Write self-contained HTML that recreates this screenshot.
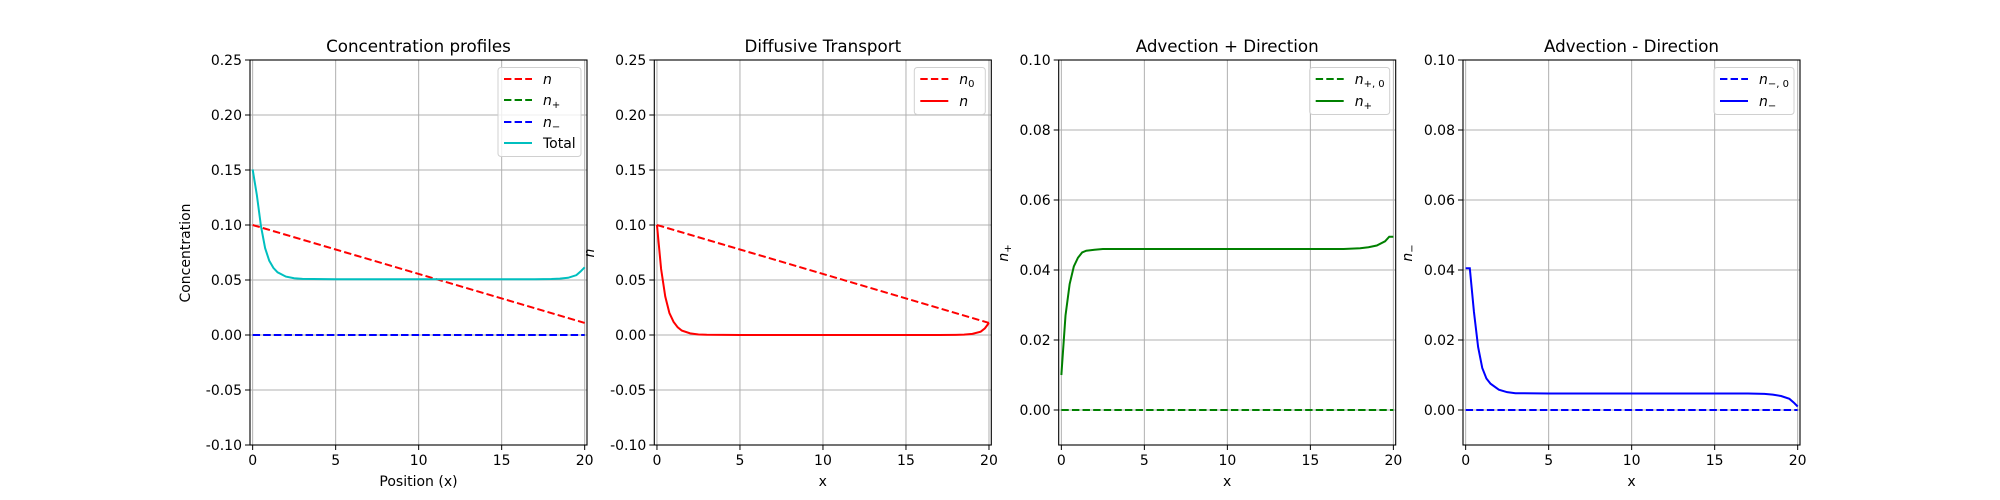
<!DOCTYPE html>
<html><head><meta charset="utf-8"><style>
body{margin:0;background:#fff}
svg{display:block;font-family:"DejaVu Sans","Liberation Sans",sans-serif}
</style></head><body>
<svg id="fig" width="2000" height="500" viewBox="0 0 2000 500" xmlns="http://www.w3.org/2000/svg"></svg>
<script>
const xs = [0,0.25,0.5,0.75,1,1.25,1.5,2,2.5,3,5,10,15,17,18,18.5,19,19.5,19.75,20];
const nVals = [0.1,0.06,0.035,0.02,0.012,0.007,0.004,0.0015,0.0005,0.0002,0,0,0,0,0.0001,0.0003,0.001,0.003,0.006,0.011];
const nPlusVals = [0.01,0.027,0.036,0.041,0.0435,0.045,0.0455,0.0458,0.046,0.046,0.046,0.046,0.046,0.046,0.0462,0.0465,0.047,0.0482,0.0495,0.0495];
const nMinusVals = [0.0405,0.0405,0.028,0.018,0.012,0.009,0.0075,0.0058,0.0051,0.0048,0.0047,0.0047,0.0047,0.0047,0.0046,0.0044,0.004,0.0032,0.0022,0.001];
const n0X = [0,20];
const n0Vals = [0.1,0.011];
const zeroVals = [0,0];
const xTicks = [0,5,10,15,20];
const yTicksA = [-0.10,-0.05,0.00,0.05,0.10,0.15,0.20,0.25];
const yTicksB = [0.00,0.02,0.04,0.06,0.08,0.10];
const totalVals = xs.map((_,i)=>nVals[i]+nPlusVals[i]+nMinusVals[i]);

const NS="http://www.w3.org/2000/svg";
const svg=document.getElementById('fig');
function el(tag,attrs,parent){const e=document.createElementNS(NS,tag);for(const k in attrs)e.setAttribute(k,attrs[k]);(parent||svg).appendChild(e);return e;}

const W=337,T=60,B=445,XMIN=-0.16,XMAX=20.14;
const lefts=[250,654.3,1058.7,1463];

function panel(i,o){
  const L=lefts[i],R=L+W;
  const sx=v=>L+(v-XMIN)/(XMAX-XMIN)*W;
  const sy=v=>B-(v-o.ymin)/(o.ymax-o.ymin)*(B-T);
  const g=el('g',{});
  
  
  // grid
  xTicks.forEach(t=>{const l=el('line',{x1:sx(t),x2:sx(t),y1:T,y2:B,stroke:'#b0b0b0','stroke-width':1},g);
    });
  o.yt.forEach(t=>{const l=el('line',{x1:L,x2:R,y1:sy(t),y2:sy(t),stroke:'#b0b0b0','stroke-width':1},g);
    });
  // series
  o.series.forEach(s=>{
    const p=el('polyline',{points:s.x.map((x,k)=>sx(x)+','+sy(s.y[k])).join(' '),fill:'none',stroke:s.c,'stroke-width':2,'stroke-dasharray':s.d?'7.4,3.2':'none'},g);
    
    
  });
  // frame
  const f=el('rect',{x:L,y:T,width:W,height:B-T,fill:'none',stroke:'#000','stroke-width':1.1},g);
  
  // ticks
  xTicks.forEach(t=>{el('line',{x1:sx(t),x2:sx(t),y1:B,y2:B+5,stroke:'#000'},g);
    const tx=el('text',{x:sx(t),y:B+20,'font-size':14,'text-anchor':'middle'},g);tx.textContent=t;
    });
  o.yt.forEach(t=>{el('line',{x1:L-5,x2:L,y1:sy(t),y2:sy(t),stroke:'#000'},g);
    const tx=el('text',{x:L-8,y:sy(t)+5,'font-size':14,'text-anchor':'end'},g);tx.textContent=t.toFixed(2);
    });
  // title
  const ti=el('text',{x:L+W/2,y:52,'font-size':16.7,'text-anchor':'middle'},g);ti.textContent=o.title;
  
  const xl=el('text',{x:L+W/2,y:486,'font-size':14,'text-anchor':'middle'},g);xl.textContent=o.xlabel;
  
  const yl=el('text',{x:o.ylx,y:253,'font-size':14,'text-anchor':'middle',transform:`rotate(-90 ${o.ylx} 253)`},g);
  yl.innerHTML=o.ylabel;
  
  // legend
  const lw=o.legW, lh=o.leg.length===4?89:47;
  const lx=R-6-lw, ly=67.5;
  const lg=el('g',{},g);
  
  el('rect',{x:lx,y:ly,width:lw,height:lh,rx:3,fill:'#fff','fill-opacity':0.8,stroke:'#d0d0d0'},lg);
  const ys=o.leg.length===4?[79,100,122,143]:[79,101];
  o.leg.forEach((e,k)=>{
    const ent=el('g',{},lg);
    
    el('line',{x1:lx+6,x2:lx+34,y1:ys[k],y2:ys[k],stroke:e.c,'stroke-width':2,'stroke-dasharray':e.d?'7.4,3.2':'none'},ent);
    const t=el('text',{x:lx+45,y:ys[k]+5,'font-size':14},ent);t.innerHTML=e.t;
  });
}
const it=(b,s)=>`<tspan font-style="italic">${b}</tspan>`+(s?`<tspan font-size="10" dy="3">${s}</tspan>`:'');

panel(0,{name:'concentration-profiles-panel',title:'Concentration profiles',xlabel:'Position (x)',ylabel:'Concentration',ylx:190,ymin:-0.1,ymax:0.25,yt:yTicksA,
  series:[{name:'n-line',x:n0X,y:n0Vals,c:'#ff0000',d:1},{name:'n-plus-line',x:n0X,y:zeroVals,c:'#008000',d:1},{name:'n-minus-line',x:n0X,y:zeroVals,c:'#0000ff',d:1},{name:'total-line',x:xs,y:totalVals,c:'#00bfbf'}],
  legW:83,leg:[{c:'#ff0000',d:1,t:it('n')},{c:'#008000',d:1,t:it('n','+')},{c:'#0000ff',d:1,t:it('n','−')},{c:'#00bfbf',t:'Total'}]});
panel(1,{name:'diffusive-transport-panel',title:'Diffusive Transport',xlabel:'x',ylabel:it('n'),ylx:594,ymin:-0.1,ymax:0.25,yt:yTicksA,
  series:[{name:'n0-line',x:n0X,y:n0Vals,c:'#ff0000',d:1},{name:'n-line',x:xs,y:nVals,c:'#ff0000'}],
  legW:71,leg:[{c:'#ff0000',d:1,t:it('n','0')},{c:'#ff0000',t:it('n')}]});
panel(2,{name:'advection-plus-panel',title:'Advection + Direction',xlabel:'x',ylabel:it('n','+'),ylx:1008,ymin:-0.01,ymax:0.1,yt:yTicksB,
  series:[{name:'n-plus-0-line',x:n0X,y:zeroVals,c:'#008000',d:1},{name:'n-plus-line',x:xs,y:nPlusVals,c:'#008000'}],
  legW:80,leg:[{c:'#008000',d:1,t:it('n','+, 0')},{c:'#008000',t:it('n','+')}]});
panel(3,{name:'advection-minus-panel',title:'Advection - Direction',xlabel:'x',ylabel:it('n','−'),ylx:1412,ymin:-0.01,ymax:0.1,yt:yTicksB,
  series:[{name:'n-minus-0-line',x:n0X,y:zeroVals,c:'#0000ff',d:1},{name:'n-minus-line',x:xs,y:nMinusVals,c:'#0000ff'}],
  legW:80,leg:[{c:'#0000ff',d:1,t:it('n','−, 0')},{c:'#0000ff',t:it('n','−')}]});
</script>
</body></html>
